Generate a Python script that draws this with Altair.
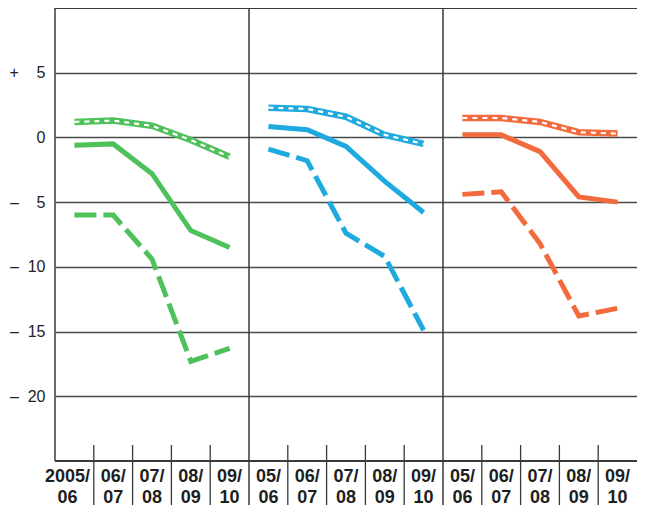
import altair as alt
import pandas as pd

# ---- data ----
regions = ["green", "blue", "orange"]
region_colors = ["#4fc15b", "#1ea9df", "#f36b3c"]

periods_panel1 = ["2005/06", "06/07", "07/08", "08/09", "09/10"]
periods_panel2 = ["05/06", "06/07", "07/08", "08/09", "09/10"]
periods_panel3 = ["05/06", "06/07", "07/08", "08/09", "09/10"]

green_dotted = [1.2, 1.3, 0.9, -0.2, -1.5]
green_solid = [-0.6, -0.5, -2.8, -7.2, -8.5]
green_dashed = [-6.0, -6.0, -9.4, -17.3, -16.3]

blue_dotted = [2.3, 2.2, 1.6, 0.2, -0.5]
blue_solid = [0.85, 0.6, -0.7, -3.4, -5.8]
blue_dashed = [-0.9, -1.8, -7.4, -9.2, -14.9]

orange_dotted = [1.5, 1.5, 1.2, 0.4, 0.3]
orange_solid = [0.2, 0.2, -1.1, -4.6, -5.0]
orange_dashed = [-4.4, -4.2, -8.2, -13.8, -13.2]

y_ticks = [5, 0, -5, -10, -15, -20]
y_frame = [10, -25]

# ---- build table ----
panels = [
    ("green", periods_panel1, {"dotted": green_dotted, "solid": green_solid, "dashed": green_dashed}),
    ("blue", periods_panel2, {"dotted": blue_dotted, "solid": blue_solid, "dashed": blue_dashed}),
    ("orange", periods_panel3, {"dotted": orange_dotted, "solid": orange_solid, "dashed": orange_dashed}),
]
rows, keys, panel_starts = [], [], []
for p, (region, periods, series) in enumerate(panels):
    for i, per in enumerate(periods):
        key = f"{p}|{per}"
        keys.append(key)
        if i == 0:
            panel_starts.append(key)
        for style, vals in series.items():
            rows.append(dict(key=key, idx=i, region=region, style=style,
                             line=f"{region}-{style}", value=vals[i]))
df = pd.DataFrame(rows)

left_df = pd.DataFrame({"key": panel_starts[:1]})
major_df = pd.DataFrame({"key": panel_starts[1:]})
minor_df = pd.DataFrame({"key": [k for k in keys[1:] if k not in panel_starts]})
frame_df = pd.DataFrame({"value": y_frame})

W, H = 582, 453
NB = "\u00a0"

x_axis = alt.Axis(
    title=None, ticks=False, domain=False, grid=False, labelAngle=0,
    labelExpr=(
        "[split(split(datum.value,'|')[1],'/')[0] + '/', "
        "split(split(datum.value,'|')[1],'/')[1]]"
    ),
    labelOffset={"condition": {"test": "datum.index == 0", "value": -7}, "value": 0},
    labelFont="Liberation Sans", labelFontWeight="bold", labelFontSize=18,
    labelColor="#1e1e1e", labelLineHeight=21, labelPadding=6, labelBaseline="top",
)
x_scale = alt.Scale(type="band", domain=keys, paddingInner=0, paddingOuter=0)

y_axis = alt.Axis(
    title=None, values=y_ticks, grid=True, gridColor="#4a4a4a", gridWidth=1.5,
    domain=False, ticks=False, labelPadding=10, labelFontSize=16,
    labelFont="Liberation Sans", labelColor="#222",
    labelExpr=(
        "datum.value > 0 ? '+" + NB * 4 + "' + datum.value : "
        "(datum.value < 0 ? (abs(datum.value) < 10 ? '\u2013" + NB * 4 + "' : '\u2013" + NB * 2 + "') + abs(datum.value) : '0')"
    ),
)
y_scale = alt.Scale(domain=[-25, 10], nice=False, zero=False)

color = alt.Color("region:N", scale=alt.Scale(domain=regions, range=region_colors), legend=None)

base = alt.Chart(df).encode(
    x=alt.X("key:N", sort=keys, scale=x_scale, axis=x_axis, bandPosition=0.5),
    y=alt.Y("value:Q", scale=y_scale, axis=y_axis),
    detail="line:N",
    order="idx:Q",
)

solid = base.transform_filter(alt.datum.style == "solid").mark_line(
    strokeWidth=5, strokeCap="butt", strokeJoin="miter").encode(color=color)
dashed = base.transform_filter(alt.datum.style == "dashed").mark_line(
    strokeWidth=5, strokeCap="butt", strokeJoin="miter", strokeDash=[22, 7]).encode(color=color)
dotted_base = base.transform_filter(alt.datum.style == "dotted").mark_line(
    strokeWidth=6.5, strokeCap="butt", strokeJoin="miter").encode(color=color)
dotted_white = base.transform_filter(alt.datum.style == "dotted").mark_line(
    strokeWidth=2.2, strokeCap="butt", strokeJoin="miter", strokeDash=[5, 5], color="white")

frame = alt.Chart(frame_df).mark_rule(color="#3a3a3a", strokeWidth=2).encode(
    y=alt.Y("value:Q", scale=y_scale, axis=y_axis),
)
left = alt.Chart(left_df).mark_rule(color="#3a3a3a", strokeWidth=1.5).encode(
    x=alt.X("key:N", sort=keys, scale=x_scale, axis=x_axis, bandPosition=0),
    y=alt.value(0), y2=alt.value(H),
)
major = alt.Chart(major_df).mark_rule(color="#3a3a3a", strokeWidth=1.5).encode(
    x=alt.X("key:N", sort=keys, scale=x_scale, axis=x_axis, bandPosition=0),
    y=alt.value(0), y2=alt.value(H + 60),
)
minor = alt.Chart(minor_df).mark_rule(color="#3a3a3a", strokeWidth=1.3).encode(
    x=alt.X("key:N", sort=keys, scale=x_scale, axis=x_axis, bandPosition=0),
    y=alt.value(H - 16), y2=alt.value(H + 60),
)

chart = alt.layer(frame, dotted_base, dotted_white, solid, dashed, left, major, minor).properties(
    width=W, height=H,
    autosize=alt.AutoSizeParams(type="none"),
    padding={"left": 47, "top": 0, "right": 0, "bottom": 44},
).configure_view(stroke=None)

chart.save("out.html", embed_options={"renderer": "svg", "actions": False})
